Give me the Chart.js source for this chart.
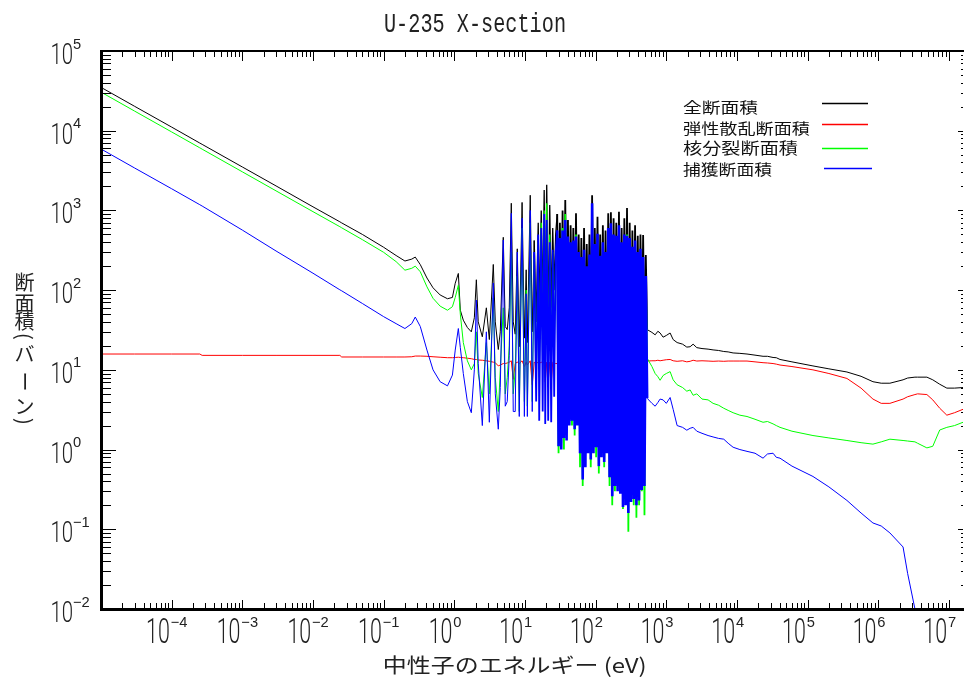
<!DOCTYPE html>
<html><head><meta charset="utf-8">
<script src="https://cdn.jsdelivr.net/npm/chart.js@4.4.1/dist/chart.umd.min.js"></script>
<style>html,body{margin:0;padding:0;background:#fff;}#wrap{width:964px;height:679px;position:relative;background:#fff;}canvas{display:block;}</style>
</head><body><div id="wrap"><canvas id="c" width="964" height="679"></canvas></div>
<script>
// ---- data (neutron energy in eV, cross sections in barns) ----
const energy = [
  1e-5, 3e-5, 1e-4, 2.5e-4, 2.7e-4, 1e-3, 3e-3, 1e-2, 0.024, 0.0255,
  0.05, 0.1, 0.15, 0.2, 0.25, 0.28, 0.33, 0.41, 0.5, 0.63,
  0.8, 0.94, 1.03, 1.14, 1.216, 1.34, 1.53, 1.74, 1.92, 2.05,
  2.18, 2.49, 2.84, 3.13, 3.56, 3.80, 4.19, 4.47, 4.93, 5.26,
  5.61, 5.99, 6.40, 6.82, 7.28, 7.78, 8.30, 9.10, 9.80, 10.4,
  10.8, 11.87, 12.67, 13.5, 14.4, 15.4, 15.9, 17.0, 17.8, 18.7,
  19.35, 20.3, 21.3, 22.4, 23.5, 24.7, 25.9, 27.2,
  28.58, 29.86, 31.19, 32.59, 34.04, 35.57, 37.16, 38.82, 40.55, 42.37,
  44.26, 46.24, 48.31, 50.47, 52.72, 55.08, 57.54, 60.12, 62.80, 65.61,
  68.55, 71.61, 74.81, 78.16, 81.65, 85.30, 89.11, 93.10, 97.26, 101.6,
  106.2, 110.9, 115.9, 121.0, 126.5, 132.1, 138.0, 144.2, 150.7, 157.4,
  164.4, 171.8, 179.5, 187.5, 195.9, 204.6, 213.8, 223.3, 233.3, 243.7,
  254.6, 266.0, 277.9, 290.3, 303.3, 316.9, 331.1, 345.9, 361.4, 377.5,
  394.5, 412.1, 430.5, 449.8, 469.9, 490.9, 512.9, 535.8,
  626, 695, 760, 817, 901, 1000, 1132, 1250, 1422, 1700,
  1950, 2173, 2395, 2700, 3200, 3900, 4590, 5500, 6500, 7500,
  8810, 11000, 13870, 18000, 23380, 27000, 32400, 36000, 40640, 60000,
  1.19e5, 2.0e5, 3.6e5, 5.7e5, 8.4e5, 1.1e6, 1.46e6, 2.24e6, 2.6e6, 3.3e6,
  3.6e6, 4.87e6, 5.9e6, 7.4e6, 9.33e6, 1.2e7, 1.58e7
];
const totalXS = [
  35000, 20200, 11100, 7000, 6740, 3510, 2030, 1110, 720, 697,
  500, 345, 272, 232, 245, 260, 209, 142, 107, 87,
  78, 81, 122, 162, 56, 42, 34, 30, 45, 135,
  40, 26, 60, 24, 210, 40, 18, 30, 460, 35,
  32, 60, 1230, 40, 28, 330, 19.5, 1260, 25, 180,
  22, 1550, 30, 420, 40, 700, 50, 1000, 60, 1800,
  35, 2100, 40, 1170, 60, 600, 100, 500,
  900, 18, 700, 20, 1000, 25, 1350, 22, 760, 30,
  650, 28, 600, 25, 920, 30, 500, 20, 450, 16,
  600, 22, 380, 25, 500, 20, 1550, 24, 600, 22,
  830, 18, 500, 25, 650, 20, 560, 22, 920, 16,
  950, 15, 800, 16, 700, 18, 960, 15, 600, 16,
  800, 15, 1070, 14, 700, 16, 560, 15, 650, 16,
  480, 15, 500, 17, 490, 16, 275, 32,
  29.5, 27.5, 30.5, 29, 25.7, 27, 29, 24, 22, 21,
  19.3, 19.5, 21, 19, 18.5, 18.2, 17.8, 17.5, 17, 16.8,
  16.3, 16.1, 15.8, 15.3, 14.8, 14.8, 14.3, 14.2, 13.5, 12.6,
  11.2, 10.3, 9.4, 8.3, 7.1, 6.8, 6.8, 7.5, 7.9, 8.1,
  8.1, 8.1, 7.5, 6.6, 5.9, 5.9, 6.0
];
const elasticXS = [
  15.8, 15.8, 15.8, 15.8, 15.2, 15.2, 15.2, 15.2, 15.2, 14.5,
  14.5, 14.5, 14.5, 14.5, 14.6, 14.9, 14.9, 14.8, 14.6, 14.4,
  14.2, 14.2, 14.3, 14.4, 14.3, 14.2, 14.0, 13.8, 13.5, 13.5,
  13.3, 13.2, 13.0, 12.8, 12.5, 12.3, 11.2, 11.5, 12, 12,
  12.2, 12.5, 13, 7.6, 12, 12.5, 12, 13, 11, 12.5,
  11.5, 13, 6.5, 12.5, 12, 12.5, 12, 12.5, 12, 12.5,
  7, 12.5, 7, 12.5, 6.5, 12.5, 12, 12,
  12, 11, 12, 11.5, 12, 10, 12, 11, 12, 12,
  12, 11, 12, 11, 12, 12, 12, 11, 12, 10,
  12, 11, 12, 11, 12, 11, 12, 11, 12, 11,
  12, 11, 12, 11, 12, 11, 12, 11, 12, 10,
  12, 10, 12, 11, 12, 11, 12, 10, 12, 11,
  12, 10, 12, 10, 12, 11, 12, 10, 12, 11,
  12, 10, 12, 11, 12, 11, 12, 12.9,
  13, 13, 13.2, 13, 13.2, 13.4, 13.5, 13, 12.8, 13,
  12.6, 12.8, 13.2, 12.9, 13, 12.9, 12.8, 12.9, 12.8, 12.9,
  12.9, 12.9, 12.9, 12.6, 12.3, 12.2, 12, 11.8, 11.5, 11,
  10, 9, 7.8, 5.9, 4.3, 3.8, 3.8, 4.3, 4.6, 4.9,
  5.0, 4.9, 4.2, 3.3, 2.7, 2.9, 3.2
];
const fissionXS = [
  30500, 17600, 9650, 6100, 5870, 3050, 1760, 965, 625, 605,
  430, 298, 228, 178, 188, 200, 170, 110, 79, 63,
  56, 62, 81, 115, 50, 22, 13, 10, 12, 30,
  9, 4.5, 22, 5, 80, 8, 3, 10, 60, 5,
  8, 20, 300, 5, 10, 150, 3, 600, 4, 100,
  3.5, 700, 4, 250, 6, 400, 8, 700, 10, 1000,
  8, 1230, 6, 500, 10, 300, 20, 250,
  500, 0.9, 300, 1.2, 600, 1.0, 900, 1.6, 350, 2.5,
  300, 2.0, 200, 1.5, 500, 2.5, 250, 0.6, 150, 0.35,
  300, 0.9, 120, 1.0, 200, 0.6, 800, 1.2, 250, 0.8,
  400, 0.5, 200, 1.0, 300, 0.6, 180, 1.2, 450, 0.35,
  500, 0.2, 300, 0.3, 350, 0.4, 400, 0.3, 220, 0.18,
  350, 0.25, 500, 0.093, 300, 0.25, 250, 0.2, 300, 0.14,
  160, 0.2, 250, 0.3, 170, 0.15, 120, 14,
  11, 9, 8.2, 7.4, 8.5, 9, 9.5, 7.5, 6.5, 6.0,
  5.4, 5.6, 4.8, 5.0, 4.3, 4.2, 3.8, 3.6, 3.3, 3.1,
  2.9, 2.7, 2.6, 2.4, 2.2, 2.25, 2.1, 2.0, 1.9, 1.7,
  1.5, 1.4, 1.3, 1.22, 1.17, 1.25, 1.35, 1.3, 1.28, 1.25,
  1.2, 1.05, 1.1, 1.76, 1.9, 2.0, 2.2
];
const captureXS = [
  5900, 3400, 1870, 1180, 1135, 567, 310, 163, 101, 98,
  68, 46.5, 38, 33, 38, 46, 35, 17.7, 10, 7.1,
  6.3, 8.6, 17.7, 33, 19, 9, 4.0, 2.9, 10, 75,
  12, 2.0, 30, 2.2, 123, 5, 1.8, 6, 425, 3.5,
  4, 15, 920, 3, 3, 300, 2.6, 800, 2.6, 90,
  2.6, 1000, 3, 300, 4, 500, 2.3, 600, 3, 900,
  2.1, 760, 2.3, 400, 2.2, 320, 4.6, 300,
  560, 1.1, 450, 1.0, 560, 1.4, 760, 1.3, 470, 2.0,
  400, 2.3, 420, 1.8, 470, 2.0, 300, 0.9, 260, 0.42,
  320, 0.6, 200, 0.9, 280, 0.75, 1230, 0.9, 380, 1.07,
  510, 0.62, 270, 0.8, 400, 0.7, 300, 0.9, 600, 0.45,
  690, 0.26, 500, 0.35, 480, 0.3, 650, 0.28, 400, 0.19,
  500, 0.2, 480, 0.16, 450, 0.22, 350, 0.24, 420, 0.2,
  300, 0.23, 330, 0.31, 260, 0.35, 150, 4.4,
  3.8, 3.5, 3.9, 4.3, 4.2, 3.8, 4.5, 3.2, 2.0, 1.9,
  1.75, 1.85, 1.9, 1.7, 1.6, 1.5, 1.44, 1.38, 1.35, 1.2,
  1.07, 1.0, 0.95, 0.9, 0.78, 0.88, 0.9, 0.8, 0.78, 0.62,
  0.46, 0.34, 0.23, 0.16, 0.12, 0.11, 0.09, 0.06, 0.028, 0.01,
  0.006, null, null, null, null, null, null
];
const seriesLabels = ['全断面積', '弾性散乱断面積', '核分裂断面積', '捕獲断面積'];
const seriesColors = ['#000000', '#ff0000', '#00ff00', '#0000ff'];
const xTickExponents = [-4, -3, -2, -1, 0, 1, 2, 3, 4, 5, 6, 7];
const yTickExponents = [-2, -1, 0, 1, 2, 3, 4, 5];
const chartTitle = 'U-235 X-section';
const xAxisTitle = '中性子のエネルギー (eV)';
const yAxisTitle = '断面積(バーン)';

[totalXS, elasticXS, fissionXS, captureXS].forEach(a => {
  if (a.length !== energy.length) throw new Error('length mismatch ' + a.length + ' vs ' + energy.length);
});

const toPoints = arr => energy.map((e, i) => ({ x: e, y: arr[i] }));
const seriesData = [totalXS, elasticXS, fissionXS, captureXS];
// unresolved-looking dense resonance band drawn with a heavier stroke
const denseWidth = [1.8, 1, 1.8, 2.6];
const semiDenseWidth = [1.3, 1, 1.3, 1.8];

// ---- text helpers ----
function fitText(ctx, text, left, top, w, h, font) {
  ctx.save();
  ctx.font = font;
  ctx.textAlign = 'left';
  ctx.textBaseline = 'alphabetic';
  const m = ctx.measureText(text);
  const iw = m.actualBoundingBoxLeft + m.actualBoundingBoxRight;
  const ih = m.actualBoundingBoxAscent + m.actualBoundingBoxDescent;
  const sx = w / iw, sy = h / ih;
  ctx.translate(left + m.actualBoundingBoxLeft * sx, top + m.actualBoundingBoxAscent * sy);
  ctx.scale(sx, sy);
  ctx.fillText(text, 0, 0);
  ctx.restore();
}
function expText(ctx, text, left, top) {
  ctx.save();
  ctx.font = '14px "Liberation Sans"';
  ctx.textAlign = 'left';
  ctx.textBaseline = 'alphabetic';
  ctx.translate(left, top + 10.5);
  ctx.scale(1.05, 1.05);
  ctx.fillText(text.replace('-', '\u2212'), 0, 0);
  ctx.restore();
}

const decor = {
  id: 'decor',
  afterDatasetsDraw(chart) {
    const { ctx, chartArea: a, scales } = chart;
    const xs = scales.x, ys = scales.y;
    ctx.save();
    ctx.fillStyle = '#000';
    ctx.fillRect(a.left - 1, a.top - 1, 3, a.bottom - a.top + 3);
    ctx.fillRect(a.left - 1, a.bottom - 1, a.right - a.left + 2, 3);
    ctx.fillRect(a.left - 1, a.top - 1, a.right - a.left + 2, 2);
    for (let d = -5; d <= 7; d++) {
      for (let m = 1; m <= 9; m++) {
        const v = m * Math.pow(10, d);
        if (v <= xs.min * 1.0001 || v > xs.max) continue;
        const px = Math.round(xs.getPixelForValue(v));
        const major = m === 1;
        ctx.fillRect(px, a.bottom - (major ? 9 : 6), 1, major ? 9 : 6);
        ctx.fillRect(px, a.top, 1, major ? 10 : 6);
      }
    }
    for (let d = -2; d <= 4; d++) {
      for (let m = 1; m <= 9; m++) {
        const v = m * Math.pow(10, d);
        if (v <= ys.min * 1.0001 || v >= ys.max) continue;
        const py = Math.round(ys.getPixelForValue(v));
        const major = m === 1;
        ctx.fillRect(a.left, py, major ? 15 : 10, 1);
        ctx.fillRect(a.right - (major ? 5 : 2), py, major ? 5 : 2, 1);
      }
    }
    ctx.fillStyle = '#222';
    xTickExponents.forEach(e => {
      const px = xs.getPixelForValue(Math.pow(10, e));
      fitText(ctx, '10', px - 24, 618, 21, 25, '300 40px Roboto, "Liberation Sans"');
      expText(ctx, String(e), px - 1, 616);
    });
    yTickExponents.forEach(e => {
      const py = ys.getPixelForValue(Math.pow(10, e));
      fitText(ctx, '10', 52, py - 9, 20, 22, '300 40px Roboto, "Liberation Sans"');
      expText(ctx, String(e), 73, py - 13);
    });
    fitText(ctx, chartTitle, 385, 11, 180, 21, '20px "Liberation Mono"');
    fitText(ctx, xAxisTitle, 385, 656, 260, 22, '22px "Noto Sans CJK JP"');
    const yCenters = [282.5, 303.5, 321.5, 336.5, 354, 381.5, 406.5, 421.5];
    const rotated = '(ー)';
    ctx.font = '20px "Noto Sans CJK JP"';
    ctx.textAlign = 'center';
    ctx.textBaseline = 'middle';
    Array.from(yAxisTitle).forEach((ch, i) => {
      ctx.save();
      ctx.translate(24.5, yCenters[i]);
      if (rotated.includes(ch)) ctx.rotate(Math.PI / 2);
      ctx.fillText(ch, 0, 0);
      ctx.restore();
    });
    const legendBoxes = [
      [683, 100, 75, 15], [683, 121, 127, 15], [683, 140, 115, 16], [683, 162, 89, 15]
    ];
    const legendLines = [[822, 868, 103.5], [822, 868, 124.5], [822, 868, 148.5], [824, 872, 168.5]];
    seriesLabels.forEach((lab, i) => {
      ctx.fillStyle = '#111';
      const b = legendBoxes[i];
      fitText(ctx, lab, b[0], b[1], b[2], b[3], '18px "Noto Sans CJK JP"');
      const l = legendLines[i];
      ctx.strokeStyle = seriesColors[i];
      ctx.lineWidth = 1.5;
      ctx.beginPath();
      ctx.moveTo(l[0], l[2]);
      ctx.lineTo(l[1], l[2]);
      ctx.stroke();
    });
    ctx.restore();
  }
};

new Chart(document.getElementById('c'), {
  type: 'line',
  data: {
    datasets: seriesData.map((arr, i) => ({
      label: seriesLabels[i],
      data: toPoints(arr),
      borderColor: seriesColors[i],
      backgroundColor: seriesColors[i],
      borderWidth: 1,
      pointRadius: 0,
      tension: 0,
      fill: false,
      order: 4 - i,
      segment: {
        borderWidth: c => {
          const e0 = energy[c.p0DataIndex], e1 = energy[c.p1DataIndex];
          if (e0 >= 28 && e1 <= 536) return denseWidth[i];
          if (e0 >= 13.5 && e1 <= 536) return semiDenseWidth[i];
          return 1;
        }
      }
    }))
  },
  options: {
    responsive: false,
    devicePixelRatio: 1,
    animation: false,
    events: [],
    layout: { padding: { left: 101, right: 1, top: 51, bottom: 70 } },
    plugins: { legend: { display: false }, title: { display: false }, tooltip: { enabled: false } },
    scales: {
      x: { type: 'logarithmic', min: 1e-5, max: 1.58e7, display: false },
      y: { type: 'logarithmic', min: 0.01, max: 1e5, display: false }
    }
  },
  plugins: [decor]
});
</script></body></html>
